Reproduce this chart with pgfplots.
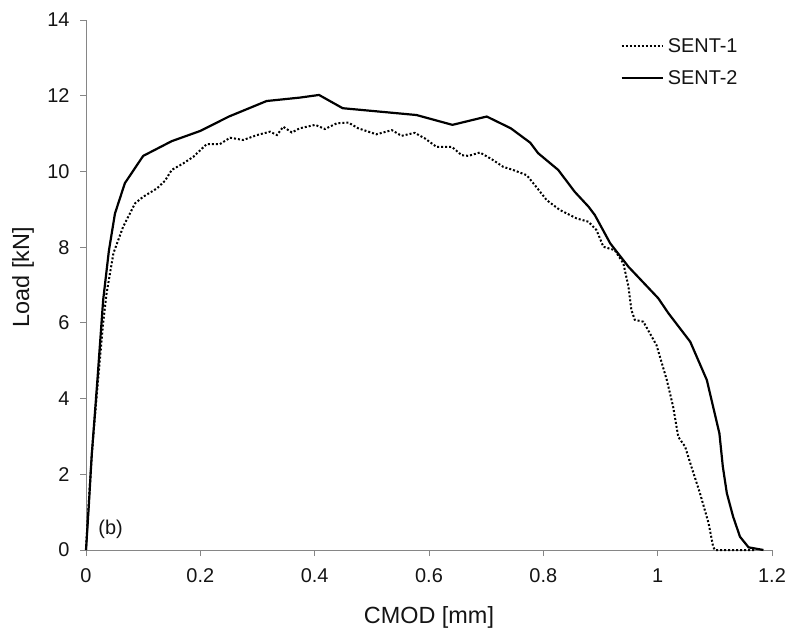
\documentclass[border=0pt]{standalone}
\usepackage{fontspec}
\setmainfont{Liberation Sans}
\usepackage{pgfplots}
\pgfplotsset{compat=1.18}
\definecolor{axgray}{RGB}{134,134,134}
\definecolor{txt}{RGB}{20,20,20}
\begin{document}
\begin{tikzpicture}
\begin{axis}[
  scale only axis,
  width=686bp, height=530bp,
  xmin=0, xmax=1.2, ymin=0, ymax=14,
  xtick={0,0.2,...,1.2}, ytick={0,2,...,14},
  xticklabels={0,0.2,0.4,0.6,0.8,1,1.2},
  axis lines*=left,
  axis line style={axgray, line width=0.9bp, -},
  tick style={axgray, line width=0.9bp},
  tick align=outside, major tick length=6bp,
  /pgf/number format/assume math mode=true,
  ticklabel style={font=\fontsize{20}{22}\selectfont, text=txt},
  xticklabel style={yshift=-9bp},
  yticklabel style={xshift=-7bp},
  xlabel={CMOD [mm]}, ylabel={Load [kN]},
  xlabel style={at={(rel axis cs:0.5,-0.127)}, anchor=center, font=\fontsize{23.5}{25}\selectfont, text=txt},
  ylabel style={at={(rel axis cs:-0.0918,0.515)}, anchor=center, rotate=0, font=\fontsize{23.5}{25}\selectfont, text=txt},
  legend style={draw=none, fill=none, at={(rel axis cs:0.779,0.970)}, anchor=north west,
    font=\fontsize{20}{22}\selectfont, text=txt, row sep=13bp, inner sep=0pt,
    nodes={inner xsep=4bp}},
  legend cell align=left,
  legend image code/.code={\draw[#1] (0bp,0bp) -- (41bp,0bp);},
  clip=false,
]
\addplot[black, line width=2bp, dash pattern=on 2bp off 2bp] coordinates {
(0,0) (0.005,1.3) (0.01,2.5) (0.02,4.3) (0.03,6.0) (0.036,6.78) (0.048,7.84) (0.065,8.54)
(0.086,9.16) (0.100,9.33) (0.124,9.55) (0.138,9.75) (0.150,10.04) (0.170,10.21) (0.188,10.39)
(0.211,10.72) (0.234,10.72) (0.252,10.89) (0.275,10.83) (0.299,10.96) (0.322,11.05) (0.334,10.96)
(0.345,11.18) (0.360,11.03) (0.374,11.14) (0.401,11.23) (0.418,11.12) (0.4385,11.27) (0.459,11.29)
(0.476,11.14) (0.508,10.98) (0.535,11.09) (0.552,10.94) (0.575,11.02) (0.593,10.87) (0.613,10.65)
(0.640,10.65) (0.657,10.43) (0.669,10.41) (0.689,10.50) (0.710,10.32) (0.730,10.12) (0.747,10.04)
(0.771,9.90) (0.785,9.64) (0.806,9.24) (0.829,8.98) (0.858,8.76) (0.879,8.67) (0.893,8.45)
(0.905,8.01) (0.925,7.92) (0.940,7.57) (0.949,6.95) (0.954,6.34) (0.960,6.08) (0.975,6.03)
(0.998,5.41) (1.016,4.49) (1.027,3.79) (1.036,2.99) (1.048,2.73) (1.059,2.20) (1.074,1.50)
(1.089,0.71) (1.097,0.09) (1.100,0) (1.17,0)
};
\addlegendentry{SENT-1}
\addplot[black, line width=2.2bp] coordinates {
(0,0) (0.005,1.2) (0.01,2.5) (0.02,4.5) (0.03,6.6) (0.04,7.9) (0.0507,8.89) (0.068,9.69)
(0.100,10.41) (0.15,10.8) (0.2,11.07) (0.25,11.45) (0.316,11.86) (0.374,11.95) (0.4076,12.02)
(0.449,11.67) (0.578,11.49) (0.641,11.23) (0.701,11.45) (0.743,11.14) (0.777,10.76) (0.791,10.48)
(0.826,10.04) (0.855,9.46) (0.879,9.07) (0.890,8.85) (0.917,8.10) (0.949,7.48) (1.001,6.65)
(1.019,6.25) (1.057,5.50) (1.086,4.49) (1.108,3.08) (1.114,2.20) (1.121,1.50) (1.132,0.88)
(1.144,0.35) (1.159,0.07) (1.185,0)
};
\addlegendentry{SENT-2}
\node[font=\fontsize{20}{22}\selectfont, text=txt] at (axis cs:0.043,0.55) {(b)};
\end{axis}
\pgfresetboundingbox
\path[use as bounding box] ([shift={(-86bp,-87bp)}]current axis.south west) rectangle ([shift={(19bp,20bp)}]current axis.north east);
\end{tikzpicture}
\end{document}
